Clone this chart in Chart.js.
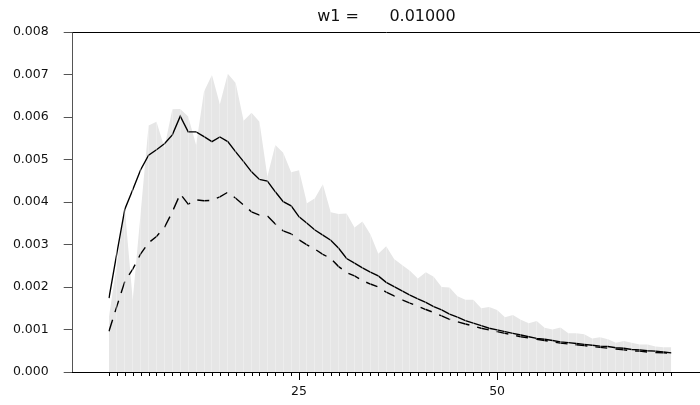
<!DOCTYPE html>
<html>
<head>
<meta charset="utf-8">
<script src="https://cdn.jsdelivr.net/npm/chart.js@4/dist/chart.umd.min.js"></script>
<style>
  html, body { margin: 0; padding: 0; background: #ffffff; }
  #wrap { width: 700px; height: 405px; }
</style>
</head>
<body>
<div id="wrap"><canvas id="c" width="700" height="405"></canvas></div>
<script>
// ---- data ----
const xVals = [1,2,3,4,5,6,7,8,9,10,11,12,13,14,15,16,17,18,19,20,21,22,23,24,25,26,27,28,29,30,31,32,33,34,35,36,
  37,38,39,40,41,42,43,44,45,46,47,48,49,50,51,52,53,54,55,56,57,58,59,60,61,62,63,64,65,66,67,68,69,70,71,72];

const grayArea = [0.00130,0.00255,0.00385,0.00170,0.00375,0.00580,0.00589,0.00528,0.00618,0.00619,0.00601,0.00534,
  0.00660,0.00699,0.00630,0.00702,0.00680,0.00591,0.00610,0.00589,0.00460,0.00534,0.00516,0.00470,0.00475,0.00397,
  0.00409,0.00442,0.00376,0.00372,0.00373,0.00340,0.00354,0.00324,0.00278,0.00296,0.00266,0.00252,0.00238,0.00220,
  0.00235,0.00224,0.00200,0.00199,0.00178,0.00170,0.00170,0.00150,0.00153,0.00146,0.00129,0.00134,0.00123,0.00115,
  0.00120,0.00104,0.00100,0.00105,0.00091,0.00091,0.00089,0.00079,0.00082,0.00077,0.00069,0.00073,0.00069,0.00065,
  0.00065,0.00060,0.00058,0.00058];

const solidLine = [0.00174,0.00280,0.00383,0.00429,0.00476,0.00510,0.00523,0.00537,0.00558,0.00602,0.00565,0.00565,
  0.00554,0.00542,0.00553,0.00542,0.00518,0.00495,0.00471,0.00453,0.00449,0.00424,0.00401,0.00391,0.00365,0.00350,
  0.00334,0.00322,0.00310,0.00291,0.00267,0.00256,0.00245,0.00235,0.00226,0.00211,0.00201,0.00191,0.00181,0.00172,
  0.00164,0.00154,0.00146,0.00136,0.00129,0.00121,0.00115,0.00109,0.00103,0.00099,0.00095,0.00091,0.00087,0.00083,
  0.00079,0.00077,0.00074,0.00071,0.00069,0.00067,0.00065,0.00063,0.00061,0.00060,0.00057,0.00056,0.00053,0.00052,
  0.00050,0.00049,0.00047,0.00045];

const dashedLine = [0.00096,0.00155,0.00213,0.00242,0.00278,0.00304,0.00319,0.00340,0.00377,0.00419,0.00395,0.00405,
  0.00403,0.00404,0.00412,0.00423,0.00409,0.00393,0.00377,0.00369,0.00367,0.00348,0.00332,0.00325,0.00311,0.00299,
  0.00289,0.00277,0.00267,0.00248,0.00234,0.00226,0.00215,0.00207,0.00200,0.00188,0.00179,0.00170,0.00162,0.00155,
  0.00147,0.00140,0.00132,0.00124,0.00118,0.00113,0.00108,0.00103,0.00099,0.00095,0.00091,0.00087,0.00083,0.00080,
  0.00077,0.00074,0.00071,0.00068,0.00066,0.00064,0.00062,0.00060,0.00058,0.00056,0.00054,0.00052,0.00050,0.00049,
  0.00047,0.00046,0.00045,0.00044];

const xTickLabels = [25, 50];
const yTicks = [0, 0.001, 0.002, 0.003, 0.004, 0.005, 0.006, 0.007, 0.008];
const titleText = "w1 =      0.01000";

// ---- styling ----
const FONT = "'DejaVu Sans', 'Liberation Sans', Arial, sans-serif";
const pts = arr => xVals.map((x, i) => ({ x: x, y: arr[i] }));

const framePlugin = {
  id: 'frame',
  afterDraw(chart) {
    const ctx = chart.ctx, a = chart.chartArea, xs = chart.scales.x;
    ctx.save();
    ctx.strokeStyle = '#000';
    ctx.lineWidth = 1;
    ctx.beginPath();
    ctx.moveTo(a.left, a.top + 0.5);
    ctx.lineTo(a.right, a.top + 0.5);
    ctx.stroke();
    ctx.beginPath();
    xVals.forEach(v => {
      if (xTickLabels.includes(v)) return;
      const px = Math.round(xs.getPixelForValue(v)) + 0.5;
      ctx.moveTo(px, a.bottom);
      ctx.lineTo(px, a.bottom + 4);
    });
    ctx.stroke();
    ctx.restore();
  }
};

new Chart(document.getElementById('c'), {
  type: 'line',
  data: {
    datasets: [
      {
        label: 'area',
        data: pts(grayArea),
        fill: 'origin',
        backgroundColor: '#e6e6e6',
        borderColor: 'rgba(0,0,0,0)',
        borderWidth: 0,
        pointRadius: 0,
        tension: 0,
        order: 3
      },
      {
        label: 'solid',
        data: pts(solidLine),
        fill: false,
        borderColor: '#000',
        borderWidth: 1.4,
        pointRadius: 0,
        tension: 0,
        order: 1
      },
      {
        label: 'dashed',
        data: pts(dashedLine),
        fill: false,
        borderColor: '#000',
        borderWidth: 1.4,
        borderDash: [12, 8],
        pointRadius: 0,
        tension: 0,
        order: 2
      }
    ]
  },
  options: {
    responsive: false,
    devicePixelRatio: 1,
    animation: false,
    layout: { padding: 0 },
    plugins: {
      legend: { display: false },
      tooltip: { enabled: false },
      title: {
        display: true,
        text: titleText,
        fullSize: false,
        color: '#111',
        font: { family: FONT, size: 16, weight: 'normal' },
        padding: { top: 7.5, bottom: 5.3 }
      }
    },
    scales: {
      x: {
        type: 'linear',
        min: -3.58,
        max: 75.62,
        afterBuildTicks: s => { s.ticks = xVals.map(v => ({ value: v })); },
        afterFit: s => { s.height = 33; },
        ticks: {
          autoSkip: false,
          maxRotation: 0,
          color: '#111',
          padding: 4,
          font: { family: FONT, size: 12.5 },
          callback: v => (xTickLabels.includes(v) ? String(v) : '')
        },
        grid: {
          drawOnChartArea: true,
          z: 1,
          color: 'rgba(255,255,255,0.3)',
          lineWidth: 1,
          drawTicks: true,
          tickLength: 8,
          tickColor: c => (c.tick && xTickLabels.includes(c.tick.value) ? '#000' : 'rgba(0,0,0,0)')
        },
        border: { display: true, color: '#000', width: 1, z: 2 }
      },
      y: {
        type: 'linear',
        min: 0,
        max: 0.008,
        afterBuildTicks: s => { s.ticks = yTicks.map(v => ({ value: v })); },
        afterFit: s => { s.width = 72.7; },
        ticks: {
          color: '#111',
          padding: 15,
          font: { family: FONT, size: 12.5 },
          callback: v => Number(v).toFixed(3)
        },
        grid: {
          drawOnChartArea: false,
          drawTicks: true,
          tickLength: 9,
          tickColor: '#555'
        },
        border: { display: true, color: '#555', width: 1 }
      }
    }
  },
  plugins: [framePlugin]
});
</script>
</body>
</html>
